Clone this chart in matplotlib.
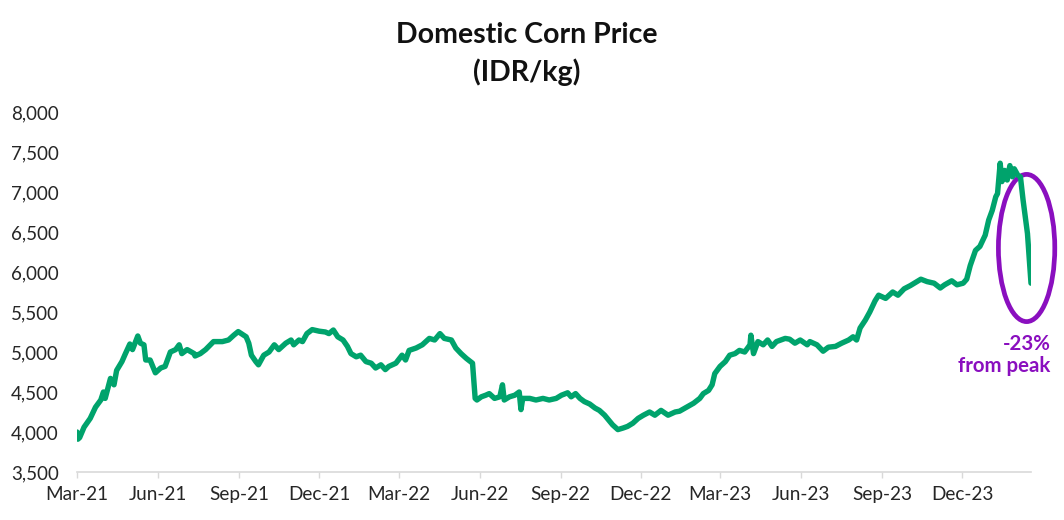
import matplotlib
matplotlib.use("Agg")
import matplotlib.pyplot as plt
import matplotlib.dates as mdates
from matplotlib.patches import Ellipse
from matplotlib.ticker import FuncFormatter
import pandas as pd

# ---- data ----
dates = [
    "2021-03-01", "2021-03-02", "2021-03-04", "2021-03-09", "2021-03-16", "2021-03-22", "2021-03-28",
    "2021-03-31", "2021-04-02", "2021-04-08", "2021-04-12", "2021-04-15", "2021-04-21", "2021-04-25",
    "2021-04-30", "2021-05-03", "2021-05-09", "2021-05-12", "2021-05-16", "2021-05-18", "2021-05-23",
    "2021-05-29", "2021-06-04", "2021-06-09", "2021-06-15", "2021-06-21", "2021-06-25", "2021-06-28",
    "2021-07-04", "2021-07-12", "2021-07-13", "2021-07-19", "2021-07-25", "2021-08-03", "2021-08-13",
    "2021-08-20", "2021-08-26", "2021-08-31", "2021-09-09", "2021-09-12", "2021-09-15", "2021-09-20",
    "2021-09-23", "2021-09-29", "2021-10-05", "2021-10-11", "2021-10-16", "2021-10-24", "2021-10-30",
    "2021-11-02", "2021-11-08", "2021-11-12", "2021-11-17", "2021-11-23", "2021-12-01", "2021-12-08",
    "2021-12-12", "2021-12-17", "2021-12-22", "2021-12-28", "2022-01-02", "2022-01-06", "2022-01-12",
    "2022-01-17", "2022-01-23", "2022-01-29", "2022-02-03", "2022-02-09", "2022-02-14", "2022-02-18",
    "2022-02-26", "2022-03-05", "2022-03-09", "2022-03-13", "2022-03-21", "2022-03-28", "2022-04-05",
    "2022-04-11", "2022-04-17", "2022-04-22", "2022-04-30", "2022-05-05", "2022-05-11", "2022-05-17",
    "2022-05-24", "2022-05-27", "2022-05-29", "2022-06-03", "2022-06-08", "2022-06-12", "2022-06-18",
    "2022-06-24", "2022-06-27", "2022-06-29", "2022-07-05", "2022-07-11", "2022-07-16", "2022-07-18",
    "2022-07-20", "2022-07-28", "2022-08-04", "2022-08-12", "2022-08-19", "2022-08-27", "2022-09-02",
    "2022-09-09", "2022-09-13", "2022-09-18", "2022-09-23", "2022-09-28", "2022-10-04", "2022-10-10",
    "2022-10-15", "2022-10-21", "2022-10-27", "2022-10-30", "2022-11-05", "2022-11-11", "2022-11-16",
    "2022-11-22", "2022-11-28", "2022-12-04", "2022-12-11", "2022-12-17", "2022-12-24", "2023-01-01",
    "2023-01-09", "2023-01-14", "2023-01-22", "2023-01-30", "2023-02-06", "2023-02-10", "2023-02-16",
    "2023-02-20", "2023-02-23", "2023-03-01", "2023-03-07", "2023-03-12", "2023-03-18", "2023-03-23",
    "2023-03-29", "2023-04-04", "2023-04-05", "2023-04-08", "2023-04-13", "2023-04-19", "2023-04-24",
    "2023-04-29", "2023-05-04", "2023-05-14", "2023-05-19", "2023-05-25", "2023-05-31", "2023-06-08",
    "2023-06-11", "2023-06-19", "2023-06-26", "2023-07-02", "2023-07-10", "2023-07-17", "2023-07-25",
    "2023-07-30", "2023-08-03", "2023-08-07", "2023-08-13", "2023-08-18", "2023-08-24", "2023-08-28",
    "2023-09-05", "2023-09-13", "2023-09-19", "2023-09-26", "2023-10-03", "2023-10-09", "2023-10-15",
    "2023-10-22", "2023-10-30", "2023-11-06", "2023-11-11", "2023-11-19", "2023-11-25", "2023-12-02",
    "2023-12-06", "2023-12-10", "2023-12-16", "2023-12-21", "2023-12-27", "2023-12-31", "2024-01-04",
    "2024-01-08", "2024-01-10", "2024-01-13", "2024-01-15", "2024-01-18", "2024-01-21", "2024-01-24",
    "2024-01-27", "2024-01-29", "2024-02-02", "2024-02-05", "2024-02-08", "2024-02-13", "2024-02-17",
]
price = [
    4000, 3910, 3930, 4060, 4170, 4310, 4400,
    4500, 4420, 4670, 4590, 4770, 4880, 4980,
    5100, 5030, 5200, 5110, 5090, 4900, 4900,
    4740, 4800, 4820, 5000, 5030, 5090, 4980,
    5030, 4980, 4950, 4980, 5030, 5130, 5130,
    5150, 5210, 5255, 5190, 5110, 4960, 4880,
    4840, 4960, 5000, 5090, 5030, 5110, 5150,
    5090, 5150, 5130, 5230, 5280, 5260, 5250,
    5230, 5275, 5190, 5150, 5070, 4980, 4940,
    4960, 4880, 4860, 4800, 4840, 4780, 4820,
    4860, 4960, 4900, 5020, 5050, 5090, 5170,
    5150, 5230, 5170, 5150, 5050, 4980, 4920,
    4860, 4420, 4400, 4440, 4460, 4480, 4420,
    4440, 4590, 4400, 4440, 4460, 4500, 4280,
    4420, 4420, 4400, 4420, 4400, 4420, 4460,
    4490, 4440, 4480, 4420, 4380, 4350, 4300,
    4270, 4210, 4130, 4090, 4030, 4050, 4070,
    4110, 4170, 4210, 4250, 4210, 4270, 4210,
    4250, 4260, 4310, 4360, 4420, 4480, 4520,
    4590, 4730, 4820, 4880, 4960, 4980, 5020,
    5000, 5090, 5210, 4980, 5130, 5090, 5150,
    5070, 5130, 5170, 5160, 5110, 5150, 5090,
    5130, 5090, 5010, 5060, 5070, 5110, 5150,
    5190, 5150, 5300, 5400, 5500, 5640, 5710,
    5670, 5750, 5710, 5790, 5830, 5870, 5910,
    5880, 5860, 5800, 5840, 5890, 5840, 5860,
    5910, 6080, 6270, 6320, 6460, 6650, 6770,
    6940, 6980, 7360, 7130, 7270, 7150, 7330,
    7190, 7290, 7210, 7190, 6900, 6480, 5860,
]
tick_dates = ["2021-03-01", "2021-06-01", "2021-09-01", "2021-12-01",
              "2022-03-01", "2022-06-01", "2022-09-01", "2022-12-01",
              "2023-03-01", "2023-06-01", "2023-09-01", "2023-12-01"]
y_ticks = [3500, 4000, 4500, 5000, 5500, 6000, 6500, 7000, 7500, 8000]
title_line1 = "Domestic Corn Price"
title_line2 = "(IDR/kg)"
note_text = "-23%\nfrom peak"

GREEN = "#00A36C"
PURPLE = "#8A0FBF"

plt.rcParams["font.family"] = ["Lato", "DejaVu Sans"]

x = pd.to_datetime(dates)
fig = plt.figure(figsize=(10.64, 5.20), dpi=100)
ax = fig.add_axes([77 / 1064, 1 - 472 / 520, (1031 - 77) / 1064, (472 - 112) / 520])

ax.plot(x, price, color=GREEN, lw=3.9, solid_joinstyle="round", solid_capstyle="round")

ax.set_xlim(x[0], x[-1])
ax.set_ylim(y_ticks[0], y_ticks[-1])
ax.set_yticks(y_ticks)
ax.yaxis.set_major_formatter(FuncFormatter(lambda v, p: f"{int(v):,}"))
ax.set_xticks(pd.to_datetime(tick_dates))
ax.xaxis.set_major_formatter(mdates.DateFormatter("%b-%y"))

for s in ["top", "right", "left"]:
    ax.spines[s].set_visible(False)
ax.spines["bottom"].set_color("#D9D9D9")
ax.spines["bottom"].set_linewidth(1.2)
ax.tick_params(axis="y", length=0, pad=13, labelsize=13.5, labelcolor="#262626")
ax.tick_params(axis="x", length=4, width=1, color="#D9D9D9", pad=6, labelsize=13.7,
               labelcolor="#262626")

# annotation ellipse
cx = mdates.date2num(pd.Timestamp("2024-02-12"))
ell = Ellipse((cx, 6300), width=64, height=1840, fill=False, edgecolor=PURPLE,
              lw=3.4, clip_on=False)
ax.add_patch(ell)
ax.text(1.0205, 0.325, note_text, transform=ax.transAxes, ha="right", va="center",
        multialignment="right", color=PURPLE, fontsize=14.7, fontweight="bold",
        linespacing=1.1)

fig.text(527 / 1064, 1 - 35 / 520, title_line1, ha="center", va="center",
         fontsize=20.5, fontweight="bold", color="#111111")
fig.text(527 / 1064, 1 - 72 / 520, title_line2, ha="center", va="center",
         fontsize=20.5, fontweight="bold", color="#111111")

fig.savefig("out.png", dpi=100)
